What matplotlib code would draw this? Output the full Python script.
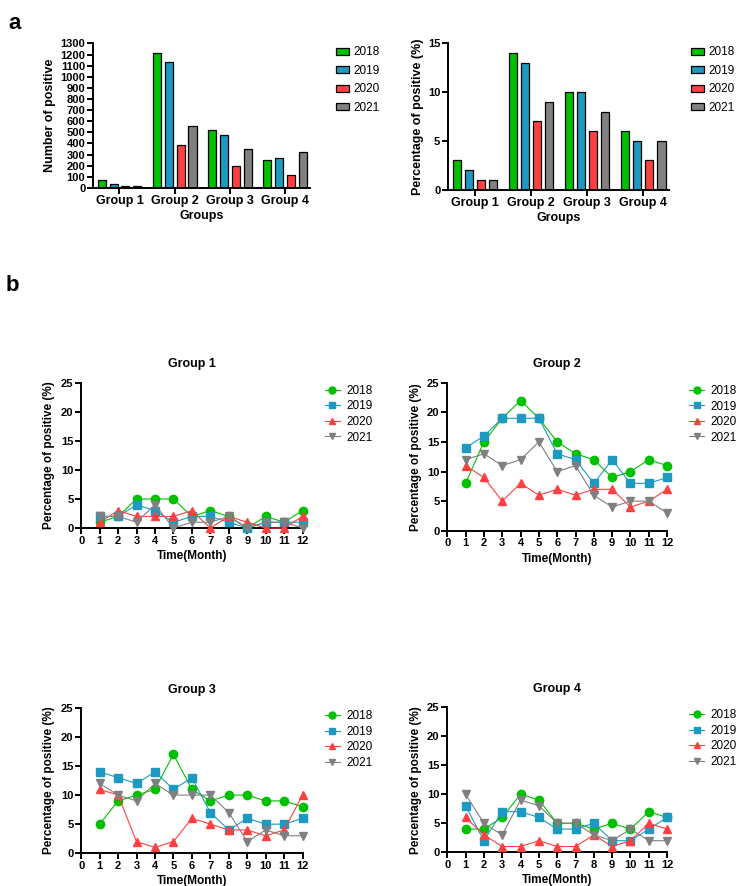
import numpy as np
import matplotlib.pyplot as plt
from matplotlib.lines import Line2D

plt.rcParams['font.family'] = ['Liberation Sans', 'DejaVu Sans']

years = ['2018', '2019', '2020', '2021']
groups = ['Group 1', 'Group 2', 'Group 3', 'Group 4']
colors = ['#00c000', '#1e9ac0', '#ff4040', '#808080']
markers = ['o', 's', '^', 'v']

# number of positive per group, one list per year
count_2018 = [70, 1210, 520, 250]
count_2019 = [30, 1130, 480, 265]
count_2020 = [15, 390, 195, 115]
count_2021 = [15, 555, 350, 320]

# percentage of positive per group
pct_2018 = [3, 14, 10, 6]
pct_2019 = [2, 13, 10, 5]
pct_2020 = [1, 7, 6, 3]
pct_2021 = [1, 9, 8, 5]

months = list(range(1, 13))

# monthly percentage of positive, per group and year
g1_2018 = [1, 2, 5, 5, 5, 2, 3, 2, 0, 2, 1, 3]
g1_2019 = [2, 2, 4, 3, 1, 2, 2, 1, 0, 1, 1, 1]
g1_2020 = [1, 3, 2, 2, 2, 3, 0, 2, 1, 0, 0, 2]
g1_2021 = [2, 2, 1, 4, 0, 1, 1, 2, 0, 1, 1, 0]

g2_2018 = [8, 15, 19, 22, 19, 15, 13, 12, 9, 10, 12, 11]
g2_2019 = [14, 16, 19, 19, 19, 13, 12, 8, 12, 8, 8, 9]
g2_2020 = [11, 9, 5, 8, 6, 7, 6, 7, 7, 4, 5, 7]
g2_2021 = [12, 13, 11, 12, 15, 10, 11, 6, 4, 5, 5, 3]

g3_2018 = [5, 9, 10, 11, 17, 11, 9, 10, 10, 9, 9, 8]
g3_2019 = [14, 13, 12, 14, 11, 13, 7, 4, 6, 5, 5, 6]
g3_2020 = [11, 10, 2, 1, 2, 6, 5, 4, 4, 3, 4, 10]
g3_2021 = [12, 10, 9, 12, 10, 10, 10, 7, 2, 4, 3, 3]

g4_2018 = [4, 4, 6, 10, 9, 5, 5, 4, 5, 4, 7, 6]
g4_2019 = [8, 2, 7, 7, 6, 4, 4, 5, 2, 2, 4, 6]
g4_2020 = [6, 3, 1, 1, 2, 1, 1, 3, 1, 2, 5, 4]
g4_2021 = [10, 5, 3, 9, 8, 5, 5, 3, 2, 4, 2, 2]


def style_axes(ax):
    ax.spines['top'].set_visible(False)
    ax.spines['right'].set_visible(False)
    ax.spines['left'].set_linewidth(1.4)
    ax.spines['bottom'].set_linewidth(1.4)
    ax.tick_params(width=1.4, length=4, labelsize=8, pad=1.5)
    for lab in ax.get_xticklabels() + ax.get_yticklabels():
        lab.set_fontweight('bold')


def bar_panel(ax, series, ylim, yticks, ylabel, leg_x):
    x = np.arange(len(groups))
    step, width = 0.215, 0.145
    for i, vals in enumerate(series):
        ax.bar(x + (i - 1.5) * step, vals, width, color=colors[i],
               edgecolor='black', linewidth=0.9, label=years[i])
    ax.set_xticks(x)
    ax.set_xticklabels(groups)
    ax.set_xlim(-0.48, 3.45)
    ax.set_ylim(*ylim)
    ax.set_yticks(yticks)
    ax.set_ylabel(ylabel, fontsize=9, fontweight='bold', labelpad=3)
    ax.set_xlabel('Groups', fontsize=9, fontweight='bold', labelpad=2)
    style_axes(ax)
    ax.tick_params(axis='x', labelsize=9)
    for lab in ax.get_xticklabels():
        lab.set_fontweight('bold')
    ax.legend(loc='upper left', bbox_to_anchor=(leg_x, 0.98), frameon=False,
              fontsize=8.5, handlelength=1.1, handleheight=0.55,
              labelspacing=0.55, handletextpad=0.4, borderaxespad=0,
              borderpad=0)


def line_panel(ax, series, title):
    for i, vals in enumerate(series):
        ax.plot(months, vals, color=colors[i], marker=markers[i],
                markersize=5.5 if markers[i] != 'o' else 6, linewidth=0.8,
                clip_on=False, zorder=3)
    ax.set_xlim(0, 12)
    ax.set_ylim(0, 25)
    ax.set_xticks(range(0, 13))
    ax.set_yticks(range(0, 26, 5))
    ax.set_title(title, fontsize=9, fontweight='bold', pad=11)
    ax.set_ylabel('Percentage of positive (%)', fontsize=8.5, fontweight='bold', labelpad=4)
    ax.set_xlabel('Time(Month)', fontsize=8.5, fontweight='bold', labelpad=3)
    style_axes(ax)
    handles = [Line2D([], [], color=colors[i], marker=markers[i], linewidth=0.8,
                      markersize=5) for i in range(4)]
    ax.legend(handles, years, loc='upper left', bbox_to_anchor=(1.1, 0.985),
              frameon=False, fontsize=8.5, handlelength=1.3,
              labelspacing=0.3, handletextpad=0.5, borderaxespad=0,
              borderpad=0)


fig = plt.figure(figsize=(7.38, 8.86), dpi=100)

ax_a1 = fig.add_axes([0.126, 0.788, 0.294, 0.163])
bar_panel(ax_a1, [count_2018, count_2019, count_2020, count_2021],
          (0, 1300), range(0, 1301, 100), 'Number of positive', 1.12)

ax_a2 = fig.add_axes([0.607, 0.786, 0.299, 0.165])
bar_panel(ax_a2, [pct_2018, pct_2019, pct_2020, pct_2021],
          (0, 15), range(0, 16, 5), 'Percentage of positive (%)', 1.10)

ax_g1 = fig.add_axes([0.110, 0.404, 0.300, 0.164])
line_panel(ax_g1, [g1_2018, g1_2019, g1_2020, g1_2021], 'Group 1')

ax_g2 = fig.add_axes([0.606, 0.401, 0.298, 0.167])
line_panel(ax_g2, [g2_2018, g2_2019, g2_2020, g2_2021], 'Group 2')

ax_g3 = fig.add_axes([0.110, 0.037, 0.300, 0.164])
line_panel(ax_g3, [g3_2018, g3_2019, g3_2020, g3_2021], 'Group 3')

ax_g4 = fig.add_axes([0.606, 0.038, 0.298, 0.164])
line_panel(ax_g4, [g4_2018, g4_2019, g4_2020, g4_2021], 'Group 4')

fig.text(0.012, 0.985, 'a', fontsize=16, fontweight='bold', va='top')
fig.text(0.008, 0.690, 'b', fontsize=16, fontweight='bold', va='top')

fig.savefig('out.png', dpi=100)
